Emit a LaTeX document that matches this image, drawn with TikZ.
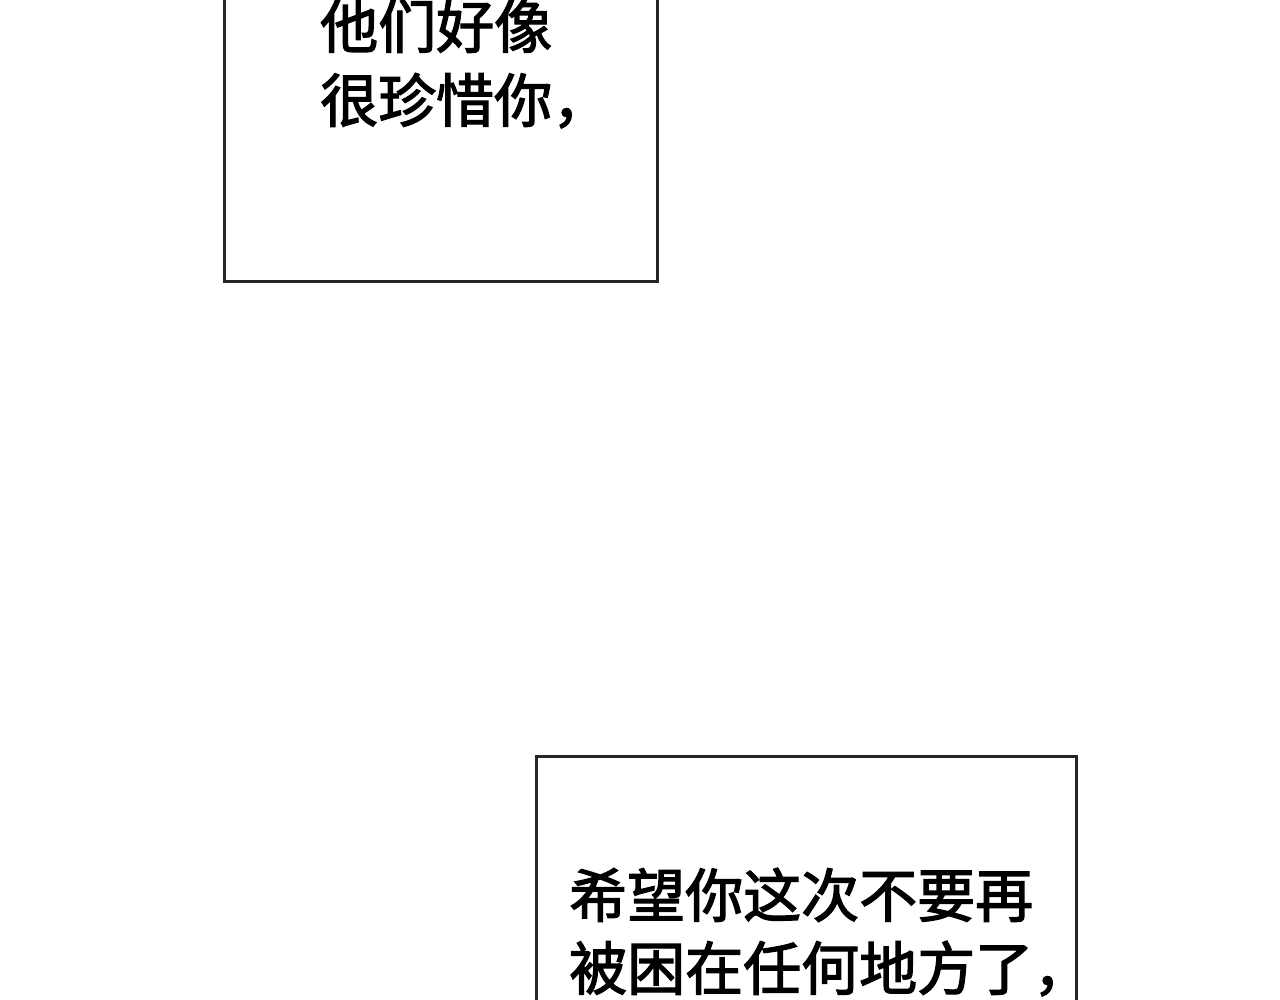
\documentclass[tikz,border=0pt]{standalone}
\usepackage{fontspec}
\newfontfamily\cjk[BoldFont={Noto Sans CJK SC},BoldFeatures={FakeBold=2.2}]{Noto Sans CJK SC}
\begin{document}
\begin{tikzpicture}[x=1pt,y=-1pt,
  panel/.style={draw=black!85,line width=3pt,fill=white},
  caption/.style={font=\cjk\bfseries\fontsize{58}{72}\selectfont,inner sep=0pt,anchor=base west}]
\useasboundingbox[fill=white] (0,0) rectangle (1280,1000);
\begin{scope}
\clip (0,0) rectangle (1280,1000);
\draw[panel] (224,-20) rectangle (657,282);
\draw[panel] (536,756) rectangle (1076,1020);
\end{scope}
\node[caption] (a1) at (320,48) {他们好像};
\node[caption] (a2) at (320,122) {很珍惜你，};
\node[caption] (b1) at (569,917) {希望你这次不要再};
\node[caption] (b2) at (569,990) {被困在任何地方了，};
\end{tikzpicture}
\end{document}
